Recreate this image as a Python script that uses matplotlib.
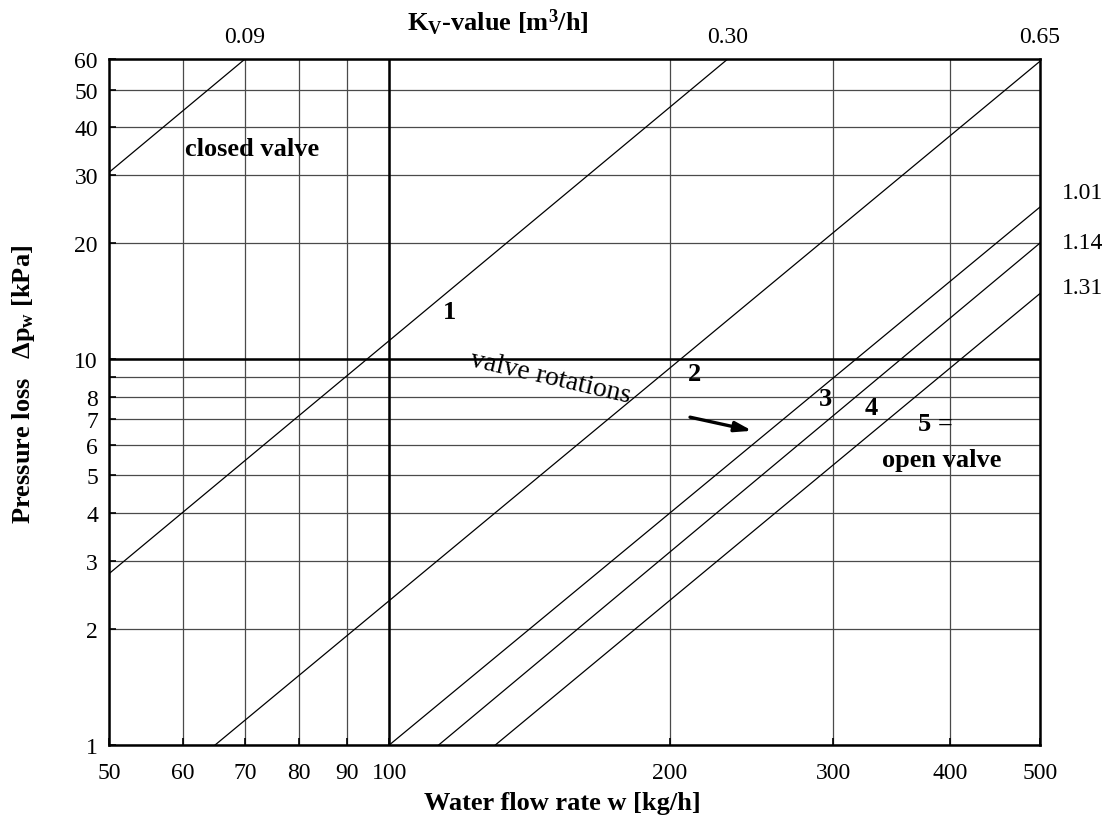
import numpy as np
import matplotlib
matplotlib.use("Agg")
import matplotlib.pyplot as plt
from matplotlib.ticker import FixedLocator, FixedFormatter, NullLocator
from matplotlib.transforms import offset_copy

plt.rcParams["font.family"] = ["Liberation Serif", "DejaVu Serif"]
plt.rcParams["mathtext.fontset"] = "custom"
plt.rcParams["mathtext.rm"] = "Liberation Serif"
plt.rcParams["mathtext.bf"] = "Liberation Serif:bold"
plt.rcParams["mathtext.it"] = "Liberation Serif:italic"

# -----------------------------
# data
# -----------------------------
kv_labels = ["0.09", "0.30", "0.65", "1.01", "1.14", "1.31"]
# end points of each Kv line: flow w [kg/h] and pressure loss [kPa]
line_w = [[50, 70], [50, 231], [65, 500], [100, 500], [113, 500], [130, 500]]
line_dp = [[30.5, 60], [2.78, 60], [1.0, 59.2], [1.0, 24.8], [1.0, 20.0], [1.0, 14.8]]
# where the right-hand Kv labels sit [kPa]
right_label_dp = [27.1, 20.1, 15.3]

x_ticks = [50, 60, 70, 80, 90, 100, 200, 300, 400, 500]
y_ticks = [1, 2, 3, 4, 5, 6, 7, 8, 9, 10, 20, 30, 40, 50, 60]
y_tick_labels = ["1", "2", "3", "4", "5", "6", "7", "8", "", "10", "20", "30", "40", "50", "60"]
decades_x = [100]
decades_y = [10]

# line numbers and where they sit (w, dp)
num_labels = ["1", "2", "3", "4"]
num_w = [116, 213, 294, 329]
num_dp = [13.3, 9.2, 7.9, 7.5]

fig = plt.figure(figsize=(11.09, 8.20), dpi=100)
ax = fig.add_axes([109 / 1109, 1 - 746 / 820, 931 / 1109, 686 / 820])
ax.set_xscale("log")
ax.set_yscale("log")
ax.set_xlim(50, 500)
ax.set_ylim(1, 60)

ax.xaxis.set_major_locator(FixedLocator(x_ticks))
ax.xaxis.set_major_formatter(FixedFormatter([str(t) for t in x_ticks]))
ax.xaxis.set_minor_locator(NullLocator())
ax.yaxis.set_major_locator(FixedLocator(y_ticks))
ax.yaxis.set_major_formatter(FixedFormatter(y_tick_labels))
ax.yaxis.set_minor_locator(NullLocator())
ax.tick_params(axis="both", direction="in", length=5, width=1.2, labelsize=17)
ax.tick_params(axis="x", pad=12)
ax.tick_params(axis="y", pad=8)

ax.grid(True, color="#4a4a4a", linewidth=0.9)
for v in decades_x:
    ax.axvline(v, color="black", linewidth=1.8, zorder=2)
for v in decades_y:
    ax.axhline(v, color="black", linewidth=1.8, zorder=2)
for s in ax.spines.values():
    s.set_linewidth(1.8)

for w, dp in zip(line_w, line_dp):
    ax.plot(w, dp, color="black", linewidth=0.9, zorder=3)

# Kv labels: first three at top where lines leave the frame, rest on the right
top_tr = offset_copy(ax.get_xaxis_transform(), fig=fig, x=0, y=12, units="points")
for lab, w in zip(kv_labels[:3], line_w[:3]):
    ax.text(w[1], 1.0, lab, transform=top_tr, ha="center", va="baseline", fontsize=17)
for lab, dp in zip(kv_labels[3:], right_label_dp):
    ax.annotate(lab, xy=(1.0, dp), xycoords=("axes fraction", "data"),
                xytext=(16, 0), textcoords="offset points",
                ha="left", va="center", fontsize=17)

fig.text(498 / 1109, 1 - 23 / 820, r"$\mathbf{K_V}$-value [m$\mathbf{^3}$/h]",
         ha="center", va="center", fontsize=19, fontweight="bold")
fig.text(562 / 1109, 1 - 804 / 820, "Water flow rate w [kg/h]",
         ha="center", va="center", fontsize=19, fontweight="bold")
fig.text(24 / 1109, 1 - 384 / 820, r"Pressure loss   $\mathbf{\Delta p_w}$ [kPa]",
         ha="center", va="center", rotation=90, fontsize=19, fontweight="bold")

ax.text(60.3, 35.1, "closed valve", fontsize=19, fontweight="bold", ha="left", va="center")
for lab, w, dp in zip(num_labels, num_w, num_dp):
    ax.text(w, dp, lab, fontsize=19, fontweight="bold", ha="center", va="center")
ax.text(386, 6.8, "5 =", fontsize=19, fontweight="bold", ha="center", va="center")
ax.text(392, 5.5, "open valve", fontsize=19, fontweight="bold", ha="center", va="center")

ax.text(149, 9.0, "valve rotations", fontsize=20, rotation=-13, ha="center", va="center")
ax.annotate("", xy=(247, 6.5), xytext=(209, 7.1),
            arrowprops=dict(arrowstyle="-|>,head_length=1.0,head_width=0.3",
                            color="black", linewidth=2.4))

fig.savefig("out.png", dpi=100)
